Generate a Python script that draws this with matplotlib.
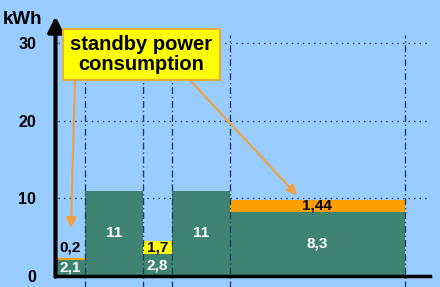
import matplotlib.pyplot as plt
from matplotlib.patches import Rectangle

plt.rcParams['font.family'] = ['Liberation Sans', 'DejaVu Sans']

widths = [1, 2, 1, 2, 6]
base = [2.1, 11, 2.8, 11, 8.3]
standby = [0.2, 0, 1.7, 0, 1.44]
standby_colors = ['#ffa000', '#ffa000', '#ffff00', '#ffa000', '#ffa000']
base_labels = ['2,1', '11', '2,8', '11', '8,3']
standby_labels = ['0,2', '', '1,7', '', '1,44']
yticks = [0, 10, 20, 30]

bg = '#99ccff'
green = '#3f8472'

fig = plt.figure(figsize=(4.4, 2.87), dpi=100, facecolor=bg)
ax = fig.add_axes([55.5 / 440, 11 / 287, 374.5 / 440, 258 / 287])
ax.set_facecolor(bg)
ax.set_xlim(0, 12.87)
ax.set_ylim(0, 33.2)

lefts = [sum(widths[:i]) for i in range(len(widths))]
centers = [l + w / 2 for l, w in zip(lefts, widths)]

# grid behind the bars
for v in yticks[1:]:
    ax.plot([0.1, 12.87], [v, v], color='#1f3a66', lw=1, ls=(0, (1, 3)), zorder=1)

ax.bar(lefts, base, width=widths, align='edge', color=green, zorder=2)
ax.bar(lefts, standby, width=widths, bottom=base, align='edge',
       color=standby_colors, zorder=2)

# dash-dot separators in front
for l, w in zip(lefts, widths):
    ax.plot([l + w, l + w], [-1.5, 31.0], color='#1f3f66', lw=1.0,
            ls=(0, (5, 2, 1, 2)), zorder=3, clip_on=False)

for c, b, s, bl, sl in zip(centers, base, standby, base_labels, standby_labels):
    ax.text(c, b / 2, bl, color='white', ha='center', va='center',
            fontsize=11, fontweight='bold', zorder=4)
    if sl:
        y = b + s + 1.4 if s < 0.5 else b + s / 2
        ax.text(c, y, sl, color='black', ha='center', va='center',
                fontsize=11, fontweight='bold', zorder=4)

# axes
for sp in ax.spines.values():
    sp.set_visible(False)
ax.plot([0, 12.87], [0, 0], color='black', lw=2.5, zorder=5, clip_on=False)
ax.annotate('', xy=(0, 33.4), xytext=(0, -0.1),
            arrowprops=dict(arrowstyle='-|>,head_length=0.9,head_width=0.45',
                            lw=3, color='black', shrinkA=0, shrinkB=0),
            annotation_clip=False, zorder=5)
ax.set_xticks([])
ax.set_yticks(yticks)
ax.set_yticklabels([str(t) for t in yticks], fontsize=11.5, fontweight='bold')
ax.tick_params(axis='y', length=0, pad=14)
fig.text(23 / 440, 1 - 19 / 287, 'kWh', ha='center', va='center',
         fontsize=13.5, fontweight='bold')

# callout box with arrows
ax.add_patch(Rectangle((0.26, 25.2), 5.39, 6.6, facecolor='#ffff00',
                       edgecolor='#e0b040', lw=1.5, zorder=6, clip_on=False))
ax.text(2.955, 28.5, 'standby power\nconsumption', ha='center', va='center',
        fontsize=14.5, fontweight='bold', linespacing=1.05, zorder=7)
for start, end in [((0.67, 25.2), (0.53, 6.2)), ((4.62, 25.2), (8.3, 10.4))]:
    ax.annotate('', xy=end, xytext=start,
                arrowprops=dict(arrowstyle='-|>,head_length=0.6,head_width=0.3',
                                lw=1.5, color='#f0a040', shrinkA=0, shrinkB=0),
                zorder=6)

fig.savefig('out.png', dpi=100, facecolor=bg)
